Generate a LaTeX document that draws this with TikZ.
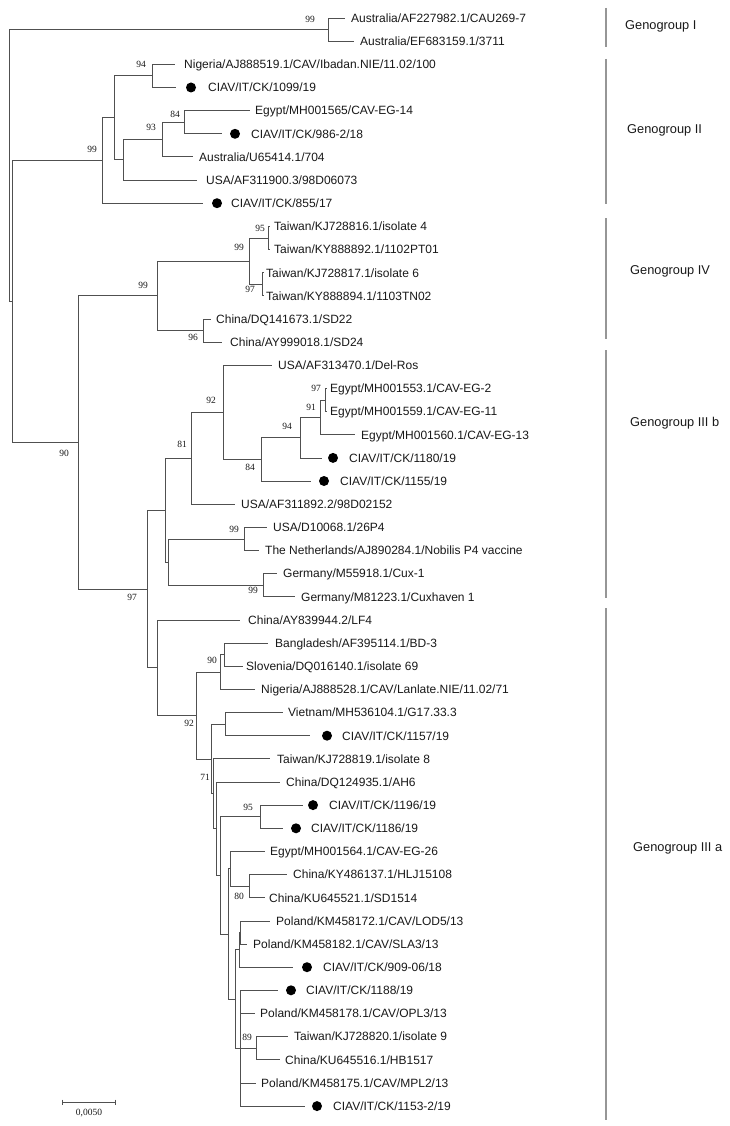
\documentclass[tikz,border=0pt]{standalone}
\usepackage{fontspec}
\setmainfont{Liberation Sans}
\newfontfamily\bsfont{Liberation Serif}
\usetikzlibrary{calc}
\definecolor{brc}{RGB}{80,80,80}
\definecolor{barc}{RGB}{150,150,150}
\definecolor{txtc}{RGB}{25,25,25}
\newcommand\lfnode[5]{%
  \coordinate (#1) at (#3,#2);
  \node[leaftext] (#1t) at (#4,#2) {#5};}
\newcommand\lfdot[6]{%
  \coordinate (#1) at (#3,#2);
  \node[dotnode] (#1d) at (#4,#2) {};
  \node[leaftext] (#1t) at (#5,#2) {#6};}
\newcommand\bs[3]{\node[boot] at (#1,#2) {#3};}
\begin{document}
\begin{tikzpicture}[x=1pt,y=-1pt,
  br/.style={draw=brc, line width=0.8pt},
  barline/.style={draw=barc, line width=1.4pt},
  leaftext/.style={anchor=west, inner sep=0pt, text height=8.6pt, text depth=0pt, font=\fontsize{12}{12}\selectfont, text=txtc},
  grp/.style={anchor=west, inner sep=0pt, text height=9.3pt, text depth=0pt, font=\fontsize{12.8}{13}\selectfont, text=txtc},
  boot/.style={inner sep=0pt, text height=6.5pt, text depth=0pt, font=\bsfont\fontsize{9.5}{10}\selectfont, text=txtc},
  dotnode/.style={circle, fill=black, inner sep=0pt, minimum size=10pt}]
\useasboundingbox (0,0) rectangle (729,1126);
\fill[white] (0,0) rectangle (729,1126);

% ---------------- leaves ----------------
\lfnode{l1}{18}{345}{351}{Australia/AF227982.1/CAU269-7}
\lfnode{l2}{41.2}{354}{360}{Australia/EF683159.1/3711}
\lfnode{l3}{64.3}{175}{184}{Nigeria/AJ888519.1/CAV/Ibadan.NIE/11.02/100}
\lfdot{l4}{87.5}{176}{191}{208}{CIAV/IT/CK/1099/19}
\lfnode{l5}{110.6}{250}{255}{Egypt/MH001565/CAV-EG-14}
\lfdot{l6}{133.8}{222}{235}{251}{CIAV/IT/CK/986-2/18}
\lfnode{l7}{156.9}{193}{199}{Australia/U65414.1/704}
\lfnode{l8}{180.1}{197}{206}{USA/AF311900.3/98D06073}
\lfdot{l9}{203.2}{203}{217}{231}{CIAV/IT/CK/855/17}
\lfnode{l10}{226.4}{270}{274}{Taiwan/KJ728816.1/isolate 4}
\lfnode{l11}{249.5}{270}{274}{Taiwan/KY888892.1/1102PT01}
\lfnode{l12}{272.7}{264}{266}{Taiwan/KJ728817.1/isolate 6}
\lfnode{l13}{295.8}{264}{266}{Taiwan/KY888894.1/1103TN02}
\lfnode{l14}{319.0}{211}{216}{China/DQ141673.1/SD22}
\lfnode{l15}{342.1}{222}{230}{China/AY999018.1/SD24}
\lfnode{l16}{365.3}{272}{278}{USA/AF313470.1/Del-Ros}
\lfnode{l17}{388.4}{327}{330}{Egypt/MH001553.1/CAV-EG-2}
\lfnode{l18}{411.6}{327}{330}{Egypt/MH001559.1/CAV-EG-11}
\lfnode{l19}{434.7}{355}{361}{Egypt/MH001560.1/CAV-EG-13}
\lfdot{l20}{457.9}{322}{333}{349}{CIAV/IT/CK/1180/19}
\lfdot{l21}{481.0}{311}{324}{340}{CIAV/IT/CK/1155/19}
\lfnode{l22}{504.2}{235}{241}{USA/AF311892.2/98D02152}
\lfnode{l23}{527.3}{267}{273}{USA/D10068.1/26P4}
\lfnode{l24}{550.5}{259}{265}{The Netherlands/AJ890284.1/Nobilis P4 vaccine}
\lfnode{l25}{573.6}{277}{283}{Germany/M55918.1/Cux-1}
\lfnode{l26}{596.8}{295}{301}{Germany/M81223.1/Cuxhaven 1}
\lfnode{l27}{619.9}{240}{248}{China/AY839944.2/LF4}
\lfnode{l28}{643.1}{268}{275}{Bangladesh/AF395114.1/BD-3}
\lfnode{l29}{666.2}{243}{246}{Slovenia/DQ016140.1/isolate 69}
\lfnode{l30}{689.4}{255}{261}{Nigeria/AJ888528.1/CAV/Lanlate.NIE/11.02/71}
\lfnode{l31}{712.5}{283}{288}{Vietnam/MH536104.1/G17.33.3}
\lfdot{l32}{735.7}{310}{327}{342}{CIAV/IT/CK/1157/19}
\lfnode{l33}{758.8}{270}{277}{Taiwan/KJ728819.1/isolate 8}
\lfnode{l34}{782.0}{280}{286}{China/DQ124935.1/AH6}
\lfdot{l35}{805.1}{303}{313}{329}{CIAV/IT/CK/1196/19}
\lfdot{l36}{828.3}{283}{296}{311}{CIAV/IT/CK/1186/19}
\lfnode{l37}{851.4}{265}{270}{Egypt/MH001564.1/CAV-EG-26}
\lfnode{l38}{874.6}{287}{293}{China/KY486137.1/HLJ15108}
\lfnode{l39}{897.7}{265}{269}{China/KU645521.1/SD1514}
\lfnode{l40}{920.9}{270}{276}{Poland/KM458172.1/CAV/LOD5/13}
\lfnode{l41}{944.0}{247}{253}{Poland/KM458182.1/CAV/SLA3/13}
\lfdot{l42}{967.2}{293}{307}{323}{CIAV/IT/CK/909-06/18}
\lfdot{l43}{990.3}{278}{291}{306}{CIAV/IT/CK/1188/19}
\lfnode{l44}{1013.5}{255}{260}{Poland/KM458178.1/CAV/OPL3/13}
\lfnode{l45}{1036.6}{288}{294}{Taiwan/KJ728820.1/isolate 9}
\lfnode{l46}{1059.8}{280}{285}{China/KU645516.1/HB1517}
\lfnode{l47}{1082.9}{256}{261}{Poland/KM458175.1/CAV/MPL2/13}
\lfdot{l48}{1106.1}{305}{317}{333}{CIAV/IT/CK/1153-2/19}

% ---------------- internal nodes ----------------
\coordinate (nR) at (9,165.5);
\coordinate (nGI) at (328,29.6);
\coordinate (nX12) at (12,301.5);
\coordinate (n99GII) at (102,160.6);
\coordinate (nGIIa) at (114,117.9);
\coordinate (n94a) at (152,75.9);
\coordinate (nGIIb) at (123,159.9);
\coordinate (n93) at (162,139.6);
\coordinate (n84a) at (184,122.2);
\coordinate (n90) at (78,442.35);
\coordinate (n99GIV) at (157,295.8);
\coordinate (n99b) at (249,261.1);
\coordinate (n95) at (268,238.0);
\coordinate (n97a) at (262,284.25);
\coordinate (n96) at (203,330.55);
\coordinate (n97c) at (147,588.9);
\coordinate (nIIIb) at (165,510.1);
\coordinate (n81) at (191,458.2);
\coordinate (n92b) at (223,412.3);
\coordinate (n84b) at (261,459.3);
\coordinate (n94b) at (300,437.6);
\coordinate (n91) at (320,417.4);
\coordinate (n97b) at (325,400);
\coordinate (nC) at (168,562.05);
\coordinate (n99c) at (244,538.9);
\coordinate (n99d) at (263,585.2);
\coordinate (n157) at (157,667.7);
\coordinate (n92c) at (196,715.45);
\coordinate (n90a) at (220,672);
\coordinate (nBS) at (224,654.65);
\coordinate (nA) at (211.7,758.9);
\coordinate (nVN) at (225,724.1);
\coordinate (n71) at (213.3,793.7);
\coordinate (nY) at (216.7,828.65);
\coordinate (N3) at (220,875.3);
\coordinate (n95c) at (260,816.7);
\coordinate (N2) at (228.3,933.9);
\coordinate (nEg) at (230,868.8);
\coordinate (n80) at (249,886.15);
\coordinate (N1) at (235,999);
\coordinate (nP) at (239.3,949.8);
\coordinate (nLS) at (240.7,932.45);
\coordinate (nQ) at (240,1048.2);
\coordinate (n89) at (256,1048.2);

% ---------------- branches ----------------
\draw[br] (nR) |- (nGI);  \draw[br] (nR) |- (nX12);
\draw[br] (nGI) |- (l1);  \draw[br] (nGI) |- (l2);
\draw[br] (nX12) |- (n99GII); \draw[br] (nX12) |- (n90);
\draw[br] (n99GII) |- (nGIIa); \draw[br] (n99GII) |- (l9);
\draw[br] (nGIIa) |- (n94a); \draw[br] (nGIIa) |- (nGIIb);
\draw[br] (n94a) |- (l3); \draw[br] (n94a) |- (l4);
\draw[br] (nGIIb) |- (n93); \draw[br] (nGIIb) |- (l8);
\draw[br] (n93) |- (n84a); \draw[br] (n93) |- (l7);
\draw[br] (n84a) |- (l5); \draw[br] (n84a) |- (l6);
\draw[br] (n90) |- (n99GIV); \draw[br] (n90) |- (n97c);
\draw[br] (n99GIV) |- (n99b); \draw[br] (n99GIV) |- (n96);
\draw[br] (n99b) |- (n95); \draw[br] (n99b) |- (n97a);
\draw[br] (n95) |- (l10); \draw[br] (n95) |- (l11);
\draw[br] (n97a) |- (l12); \draw[br] (n97a) |- (l13);
\draw[br] (n96) |- (l14); \draw[br] (n96) |- (l15);
\draw[br] (n97c) |- (nIIIb); \draw[br] (n97c) |- (n157);
\draw[br] (nIIIb) |- (n81); \draw[br] (nIIIb) |- (nC);
\draw[br] (n81) |- (n92b); \draw[br] (n81) |- (l22);
\draw[br] (n92b) |- (l16); \draw[br] (n92b) |- (n84b);
\draw[br] (n84b) |- (n94b); \draw[br] (n84b) |- (l21);
\draw[br] (n94b) |- (n91); \draw[br] (n94b) |- (l20);
\draw[br] (n91) |- (n97b); \draw[br] (n91) |- (l19);
\draw[br] (n97b) |- (l17); \draw[br] (n97b) |- (l18);
\draw[br] (nC) |- (n99c); \draw[br] (nC) |- (n99d);
\draw[br] (n99c) |- (l23); \draw[br] (n99c) |- (l24);
\draw[br] (n99d) |- (l25); \draw[br] (n99d) |- (l26);
\draw[br] (n157) |- (l27); \draw[br] (n157) |- (n92c);
\draw[br] (n92c) |- (n90a); \draw[br] (n92c) |- (nA);
\draw[br] (n90a) |- (nBS); \draw[br] (n90a) |- (l30);
\draw[br] (nBS) |- (l28); \draw[br] (nBS) |- (l29);
\draw[br] (nA) |- (nVN); \draw[br] (nA) |- (n71);
\draw[br] (nVN) |- (l31); \draw[br] (nVN) |- (l32);
\draw[br] (n71) |- (l33); \draw[br] (n71) |- (nY);
\draw[br] (nY) |- (l34); \draw[br] (nY) |- (N3);
\draw[br] (N3) |- (n95c); \draw[br] (N3) |- (N2);
\draw[br] (n95c) |- (l35); \draw[br] (n95c) |- (l36);
\draw[br] (N2) |- (nEg); \draw[br] (N2) |- (N1);
\draw[br] (nEg) |- (l37); \draw[br] (nEg) |- (n80);
\draw[br] (n80) |- (l38); \draw[br] (n80) |- (l39);
\draw[br] (N1) |- (nP); \draw[br] (N1) |- (nQ);
\draw[br] (nP) |- (nLS); \draw[br] (nP) |- (l42);
\draw[br] (nLS) |- (l40); \draw[br] (nLS) |- (l41);
\draw[br] (nQ) |- (l43); \draw[br] (nQ) |- (l44); \draw[br] (nQ) |- (n89);
\draw[br] (nQ) |- (l47); \draw[br] (nQ) |- (l48);
\draw[br] (n89) |- (l45); \draw[br] (n89) |- (l46);

% ---------------- bootstrap values ----------------
\bs{310}{19}{99}
\bs{141}{64}{94}
\bs{175}{114}{84}
\bs{151}{127}{93}
\bs{92}{149}{99}
\bs{143}{285}{99}
\bs{239}{247}{99}
\bs{260}{228}{95}
\bs{250}{289}{97}
\bs{193}{337}{96}
\bs{64}{453}{90}
\bs{132}{597}{97}
\bs{182}{444}{81}
\bs{211}{400}{92}
\bs{250}{467}{84}
\bs{287}{426}{94}
\bs{311}{407}{91}
\bs{316}{388}{97}
\bs{234}{529}{99}
\bs{253}{590}{99}
\bs{189}{723}{92}
\bs{212}{660}{90}
\bs{205}{777}{71}
\bs{248}{807}{95}
\bs{239}{896}{80}
\bs{247}{1037}{89}

% ---------------- genogroup bars ----------------
\coordinate (gIa) at (606,8);    \coordinate (gIb) at (606,47);
\coordinate (gIIa) at (606,59);  \coordinate (gIIb) at (606,204);
\coordinate (gIVa) at (606,218); \coordinate (gIVb) at (606,339);
\coordinate (gIIIba) at (606,350); \coordinate (gIIIbb) at (606,598);
\coordinate (gIIIaa) at (606,608); \coordinate (gIIIab) at (606,1120);
\draw[barline] (gIa) -- (gIb);
\draw[barline] (gIIa) -- (gIIb);
\draw[barline] (gIVa) -- (gIVb);
\draw[barline] (gIIIba) -- (gIIIbb);
\draw[barline] (gIIIaa) -- (gIIIab);
\node[grp] (GI) at (625,25) {Genogroup I};
\node[grp] (GII) at (627,129) {Genogroup II};
\node[grp] (GIV) at (630,270) {Genogroup IV};
\node[grp] (GIIIb) at (630,422) {Genogroup III b};
\node[grp] (GIIIa) at (633,847) {Genogroup III a};

% ---------------- scale bar ----------------
\coordinate (sb1) at (62,1102);
\coordinate (sb2) at (115,1102);
\draw[br] (sb1) -- (sb2);
\draw[br] ($(sb1)+(0,-2.5)$) -- ($(sb1)+(0,2.5)$);
\draw[br] ($(sb2)+(0,-2.5)$) -- ($(sb2)+(0,2.5)$);
\node[boot] (sbl) at (89,1112) {0,0050};
\end{tikzpicture}
\end{document}
